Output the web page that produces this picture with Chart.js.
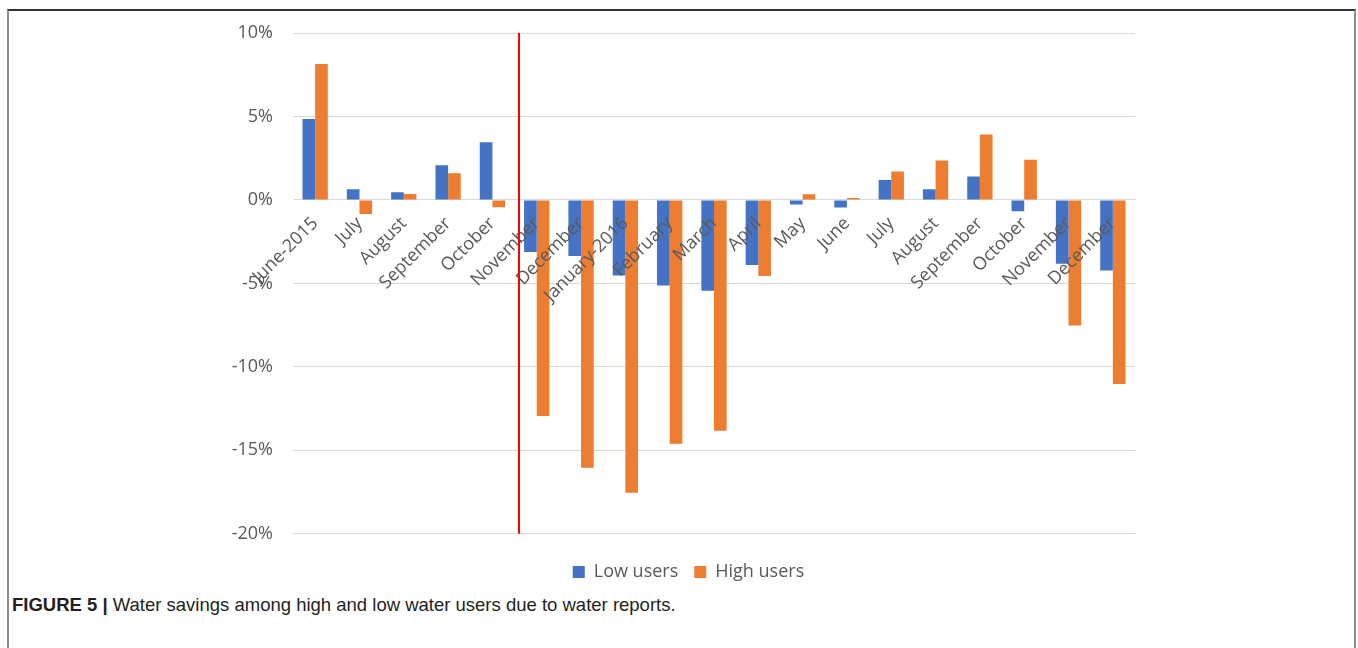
<!DOCTYPE html>
<html>
<head>
<meta charset="utf-8">
<script src="https://cdn.jsdelivr.net/npm/chart.js@4"></script>
<style>
  body { margin:0; background:#fff; width:1358px; height:648px; overflow:hidden; position:relative; }
  #frame { position:absolute; left:7px; top:9px; width:1345px; height:700px;
           border-left:2px solid #8c8c8c; border-right:2px solid #8c8c8c; border-top:2px solid #333; }
  #box { position:absolute; left:0; top:0; width:1358px; height:591px; }
  #caption { position:absolute; left:12px; top:594px; font-family:"Liberation Sans",Arial,sans-serif;
             font-size:18.5px; color:#231f20; white-space:nowrap; }
  #caption b { font-weight:bold; }
</style>
</head>
<body>
<div id="frame"></div>
<div id="box"><canvas id="myChart"></canvas></div>
<div id="caption"><b>FIGURE 5 |</b> Water savings among high and low water users due to water reports.</div>

<script>
// 데이터
const months = ["June-2015", "July", "August", "September", "October", "November", "December",
  "January-2016", "February", "March", "April", "May", "June", "July", "August", "September",
  "October", "November", "December"];

const lowUsers  = [4.85, 0.64, 0.46, 2.08, 3.46, -3.12, -3.36, -4.52, -5.12, -5.44, -3.9, -0.28,
  -0.46, 1.2, 0.64, 1.4, -0.68, -3.82, -4.22];
const highUsers = [8.15, -0.84, 0.36, 1.6, -0.44, -12.94, -16.04, -17.54, -14.6, -13.82, -4.56, 0.34,
  0.12, 1.7, 2.36, 3.92, 2.4, -7.52, -11.02];

const yTicks = [10, 5, 0, -5, -10, -15, -20];

// red marker line, in category units (between October and November)
const markerAt = 4.59;

const markerLine = {
  id: "markerLine",
  afterDraw(chart) {
    const c = chart.ctx;
    const area = chart.chartArea;
    const x = Math.round(chart.scales.x.getPixelForValue(markerAt));
    c.save();
    c.strokeStyle = "#ff0000";
    c.lineWidth = 2;
    c.beginPath();
    c.moveTo(x, area.top);
    c.lineTo(x, area.bottom);
    c.stroke();
    c.restore();
  }
};

const ctx = document.getElementById("myChart");

new Chart(ctx, {
  type: "bar",
  data: {
    labels: months,
    datasets: [
      { label: "Low users", data: lowUsers, backgroundColor: "#4472c4",
        categoryPercentage: 0.571, barPercentage: 1.0 },
      { label: "High users", data: highUsers, backgroundColor: "#ed7d31",
        categoryPercentage: 0.571, barPercentage: 1.0 }
    ]
  },
  options: {
    responsive: true,
    maintainAspectRatio: false,
    animation: false,
    layout: { padding: { left: 213, right: 194, top: 33, bottom: 0 } },
    scales: {
      x: {
        position: { y: 0 },
        grid: { display: false, drawTicks: false },
        border: { color: "#d9d9d9", width: 1 },
        ticks: {
          z: 1, // labels over the bars, like the original
          color: "#595959",
          font: { family: "'Open Sans'", size: 18 },
          minRotation: 45, maxRotation: 45,
          padding: 13,
          autoSkip: false
        }
      },
      y: {
        min: -20, max: 10,
        afterFit: (s) => { s.width = 80; },
        afterBuildTicks: (s) => { s.ticks = yTicks.map(v => ({ value: v })); },
        grid: { color: "#d9d9d9", drawTicks: false },
        border: { display: false },
        ticks: {
          color: "#595959",
          font: { family: "'Open Sans'", size: 18 },
          padding: 20,
          callback: (v) => v + "%"
        }
      },
      // empty space on the right so the legend sits where it does in the figure
      spacer: {
        position: "right",
        afterFit: (s) => { s.width = 29; },
        grid: { display: false },
        border: { display: false },
        ticks: { display: false }
      }
    },
    plugins: {
      legend: {
        position: "bottom",
        title: { display: true, text: " ", font: { size: 1 }, padding: { top: 12, bottom: 0 } },
        labels: {
          color: "#595959",
          font: { family: "'Open Sans'", size: 18 },
          boxWidth: 12, boxHeight: 12,
          padding: 16
        }
      },
      tooltip: { enabled: false }
    }
  },
  plugins: [markerLine]
});
</script>
</body>
</html>
